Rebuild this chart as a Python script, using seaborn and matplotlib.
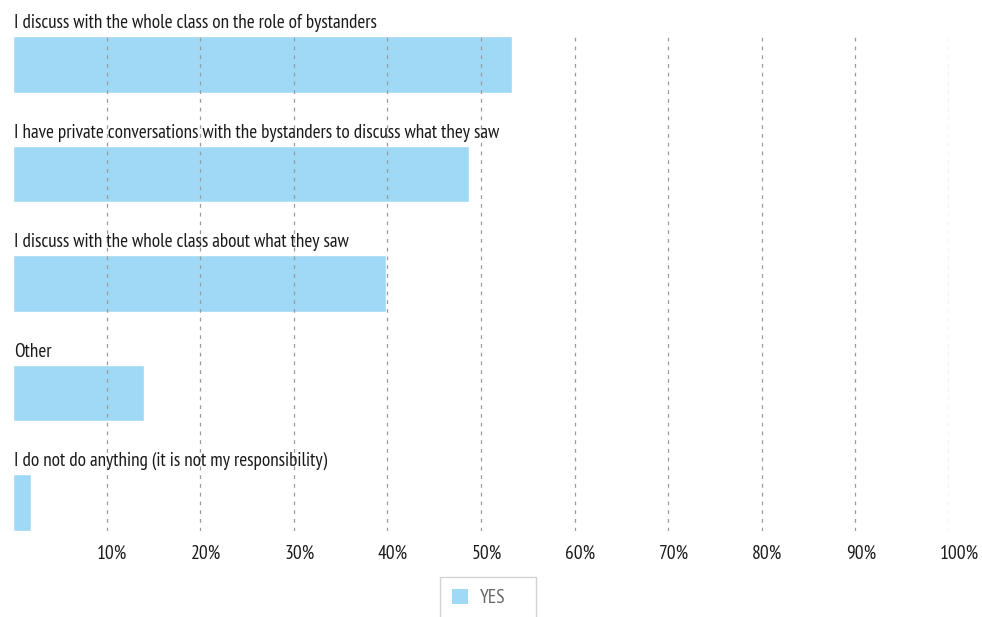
import matplotlib
matplotlib.use("Agg")
import matplotlib.pyplot as plt
import matplotlib.transforms as mtransforms
from matplotlib.patches import Patch
import seaborn as sns
import pandas as pd

categories = [
    "I discuss with the whole class on the role of bystanders",
    "I have private conversations with the bystanders to discuss what they saw",
    "I discuss with the whole class about what they saw",
    "Other",
    "I do not do anything (it is not my responsibility)",
]
yes_pct = [53.3, 48.7, 39.9, 14.0, 1.9]
tick_values = [10, 20, 30, 40, 50, 60, 70, 80, 90, 100]
tick_labels = ["10%", "20%", "30%", "40%", "50%", "60%", "70%", "80%", "90%", "100%"]
series_name = "YES"

bar_color = "#A0D9F6"
text_color = "#1a1a1a"
font = ["PT Sans Narrow", "DejaVu Sans"]

sns.set_theme(style="white")
plt.rcParams["font.family"] = font

df = pd.DataFrame({"category": categories, "value": yes_pct, "series": series_name})

W, H = 982, 617
fig = plt.figure(figsize=(W / 100, H / 100), dpi=100)
ax = fig.add_axes([13 / W, 1 - 531 / H, (949 - 13) / W, (531 - 36) / H])

bar_h = 0.52
sns.barplot(data=df, x="value", y="category", hue="series", orient="h",
            palette=[bar_color], width=bar_h, saturation=1, ax=ax, legend=False,
            zorder=1)

ax.set_xlim(0, 100)
ax.set_ylim(len(categories) - 1 + bar_h / 2, -bar_h / 2)
ax.set_xlabel("")
ax.set_ylabel("")
ax.set_yticks([])
for s in ax.spines.values():
    s.set_visible(False)

ax.set_xticks(tick_values)
ax.set_xticklabels([])
ax.tick_params(axis="x", length=0)
for v in tick_values:
    ax.axvline(v, color="#9a9a9a", lw=0.9, ls=(0, (3, 4)), zorder=2)

# tick labels, left edge slightly before each gridline
off = mtransforms.offset_copy(ax.get_xaxis_transform(), fig=fig, x=-9.5, y=-14, units="dots")
for v, lab in zip(tick_values, tick_labels):
    ax.text(v, 0, lab, transform=off, ha="left", va="top", fontsize=14,
            color=text_color, family=font)

# category captions above each bar
cap = mtransforms.offset_copy(ax.transData, fig=fig, x=1, y=4, units="dots")
for i, c in enumerate(categories):
    ax.text(0, i - bar_h / 2, c, transform=cap, ha="left", va="bottom",
            fontsize=13.8, color=text_color, family=font)

# legend in a fixed-width box below the axis
leg = fig.legend(handles=[Patch(facecolor=bar_color, edgecolor="none", label=series_name)],
                 loc="upper left", mode="expand",
                 bbox_to_anchor=(440 / W, 1 - 617 / H, 96 / W, 40 / H),
                 borderaxespad=0, frameon=True, fancybox=False, handlelength=0.85,
                 handleheight=0.85, borderpad=0.6, handletextpad=0.6,
                 prop={"family": font, "size": 14})
leg.get_frame().set_edgecolor("#c8c8c8")
leg.get_frame().set_linewidth(1.0)
for t in leg.get_texts():
    t.set_color("#666666")

fig.savefig("out.png", dpi=100)
